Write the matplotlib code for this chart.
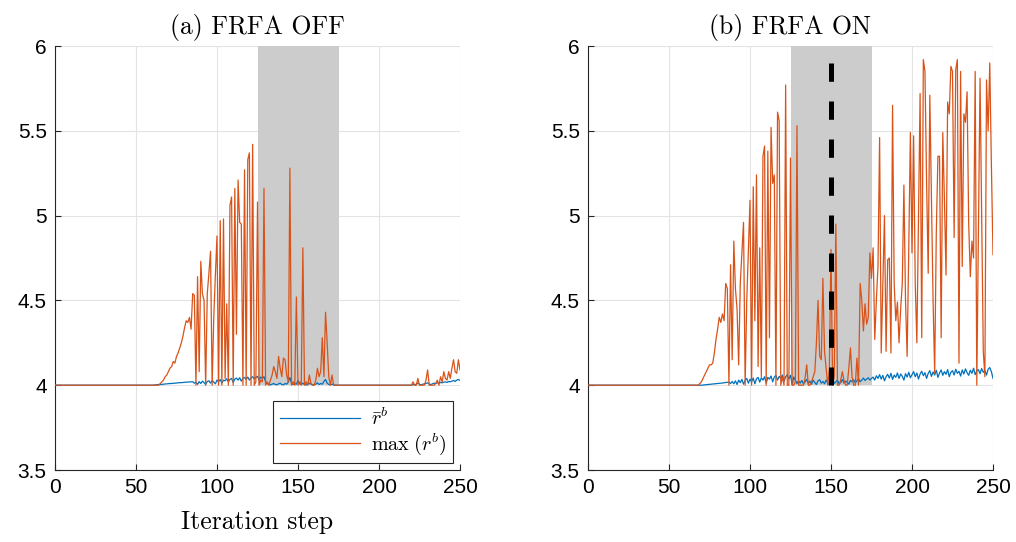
import numpy as np
import matplotlib
matplotlib.use("Agg")
import matplotlib.pyplot as plt
from matplotlib.ticker import FuncFormatter

plt.rcParams["mathtext.fontset"] = "cm"
plt.rcParams["font.family"] = ["Liberation Sans", "DejaVu Sans"]

# ---------------- data: FRFA OFF ----------------
off_max = (
    [4.0] * 64
    + [4.00, 4.01, 4.02, 4.03, 4.05, 4.06, 4.08, 4.10, 4.11, 4.14,
       4.13, 4.17, 4.19, 4.22, 4.25, 4.29, 4.34, 4.38, 4.37, 4.40,
       4.33, 4.54, 4.53, 4.00, 4.64, 4.08, 4.73, 4.54, 4.50, 4.00,
       4.54, 4.66, 4.79, 4.00, 4.40, 4.65, 4.88, 4.00, 4.97, 4.00,
       4.98, 4.04, 4.48, 4.00, 5.06, 5.11, 4.00, 5.16, 4.30, 5.21,
       4.96, 4.95, 4.00, 5.27, 4.00, 5.33, 5.37, 4.00, 5.42, 4.00,
       4.02, 5.08, 4.00, 4.03, 4.02, 5.16, 4.00, 4.02, 4.00, 4.03,
       4.06, 4.11, 4.08, 4.04, 4.17, 4.10, 4.05, 4.16, 4.15, 4.06,
       4.02, 5.28, 4.00, 4.02, 4.00, 4.52, 4.00, 4.02, 4.00, 4.81,
       4.00, 4.02, 4.00, 4.06, 4.01, 4.00, 4.00, 4.03, 4.10, 4.05,
       4.08, 4.28, 4.05, 4.43, 4.25, 4.05, 4.00, 4.06, 4.00]
    + [4.0] * 47
    + [4.00, 4.02, 4.00, 4.00, 4.04, 4.00, 4.00, 4.00, 4.00, 4.03,
       4.09, 4.00, 4.00, 4.00, 4.00, 4.01, 4.03, 4.00, 4.05, 4.02,
       4.08, 4.04, 4.03, 4.08, 4.04, 4.10, 4.15, 4.08, 4.07, 4.15, 4.09]
)

off_mean = (
    [4.0] * 60
    + [4.000, 4.001, 4.002, 4.003, 4.004, 4.004, 4.005, 4.006, 4.007, 4.008,
       4.009, 4.010, 4.010, 4.011, 4.012, 4.013, 4.014, 4.015, 4.015, 4.016,
       4.017, 4.018, 4.018, 4.019, 4.020, 4.020,
       4.012, 4.018, 4.005, 4.021, 4.010, 4.024, 4.015, 4.004, 4.022, 4.026,
       4.012, 4.028, 4.018, 4.008, 4.030, 4.022, 4.033, 4.012, 4.030, 4.026,
       4.038, 4.020, 4.034, 4.040, 4.016, 4.036, 4.042, 4.030, 4.044, 4.024,
       4.040, 4.046, 4.034, 4.048, 4.030, 4.044, 4.050, 4.036, 4.046, 4.052,
       4.030, 4.048, 4.040, 4.050, 4.020,
       4.010, 4.004, 4.002, 4.006, 4.010, 4.004, 4.002, 4.008, 4.012, 4.004,
       4.002, 4.010, 4.006, 4.018, 4.045, 4.012, 4.004, 4.010, 4.006, 4.028,
       4.008, 4.004, 4.012, 4.004, 4.002, 4.004, 4.012, 4.006, 4.002, 4.004,
       4.006, 4.014, 4.004, 4.010, 4.006, 4.022, 4.034, 4.012, 4.004, 4.002,
       4.006, 4.002]
    + [4.0] * 47
    + [4.000, 4.004, 4.002, 4.006, 4.012, 4.004, 4.002, 4.006, 4.008, 4.010,
       4.014, 4.006, 4.004, 4.008, 4.012, 4.010, 4.014, 4.012, 4.016, 4.014,
       4.018, 4.020, 4.016, 4.022, 4.020, 4.024, 4.028, 4.022, 4.030, 4.034, 4.028]
)

# ---------------- data: FRFA ON ----------------
on_max = (
    [4.0] * 69
    + [4.01, 4.02, 4.04, 4.06, 4.08, 4.10, 4.12, 4.12, 4.13, 4.19,
       4.27, 4.33, 4.40, 4.37, 4.42, 4.38, 4.60, 4.57, 4.00, 4.71,
       4.15, 4.85, 4.57, 4.45, 4.12, 4.60, 4.78, 4.96, 4.00, 4.50,
       4.80, 5.09, 4.00, 5.17, 4.38, 5.24, 4.11, 4.81, 4.05, 5.35,
       5.41, 4.00, 5.38, 4.28, 5.52, 5.19, 5.24, 4.00, 5.61, 5.56,
       4.00, 4.05, 4.00, 5.77, 4.00, 4.00, 5.34, 4.00, 4.00, 4.02,
       5.53, 4.00, 4.00, 4.00, 4.00, 4.04, 4.12, 4.00, 4.00, 4.02,
       4.05, 4.08, 4.25, 4.50, 4.17, 4.15, 4.63, 4.20, 4.10, 4.00,
       4.10, 4.80, 4.00, 4.05, 4.95, 4.00, 4.00, 4.03, 4.08, 4.03,
       4.00, 4.00, 4.10, 4.22, 4.05, 4.00, 4.00, 4.16, 4.00, 4.60,
       4.50, 4.32, 4.48, 4.36, 4.40, 4.78, 4.63, 4.81, 4.27, 4.50,
       4.70, 5.46, 4.19, 4.60, 5.00, 4.20, 4.74, 4.75, 4.19, 5.65,
       4.60, 4.38, 4.49, 4.25, 4.45, 4.60, 5.18, 4.50, 4.17, 4.80,
       5.49, 4.78, 5.47, 4.60, 4.25, 5.00, 5.72, 4.28, 5.92, 5.85,
       5.20, 4.66, 5.71, 5.10, 4.50, 4.07, 4.90, 5.35, 5.35, 4.28,
       5.49, 5.10, 4.65, 5.67, 5.60, 5.88, 5.85, 4.87, 5.86, 5.92,
       4.13, 5.85, 4.70, 5.60, 5.55, 5.73, 4.95, 4.64, 4.85, 4.75,
       5.85, 4.00, 4.90, 5.81, 5.00, 4.20, 4.05, 5.80, 5.50, 5.90,
       5.30, 4.77]
)

on_mean = (
    [4.0] * 70
    + [4.000, 4.001, 4.002, 4.003, 4.004, 4.005, 4.006, 4.007, 4.008, 4.009,
       4.010, 4.011, 4.012, 4.013, 4.014, 4.016, 4.017, 4.018,
       4.010, 4.022, 4.008, 4.026, 4.004, 4.030, 4.015, 4.034, 4.006, 4.028,
       4.040, 4.012, 4.036, 4.020, 4.042, 4.008, 4.038, 4.046, 4.018, 4.044,
       4.030, 4.050, 4.012, 4.046, 4.036, 4.054, 4.020, 4.048, 4.058, 4.030,
       4.052, 4.040, 4.060, 4.022, 4.050, 4.062, 4.036, 4.058, 4.004, 4.048,
       4.030, 4.010, 4.026,
       4.012, 4.028, 4.008, 4.020, 4.034, 4.010, 4.024, 4.006, 4.030, 4.016,
       4.004, 4.026, 4.032, 4.012, 4.022, 4.008, 4.030, 4.014, 4.002, 4.024,
       4.036, 4.010, 4.020, 4.030, 4.008, 4.016, 4.034, 4.012, 4.024, 4.018,
       4.006, 4.028, 4.020, 4.032, 4.014, 4.026, 4.038, 4.020, 4.030, 4.042,
       4.028, 4.036, 4.044, 4.030, 4.040,
       4.048, 4.030, 4.056, 4.040, 4.062, 4.036, 4.058, 4.026, 4.050, 4.064,
       4.042, 4.070, 4.034, 4.060, 4.046, 4.072, 4.040, 4.066, 4.052, 4.030,
       4.068, 4.048, 4.076, 4.044, 4.062, 4.080, 4.050, 4.072, 4.036, 4.066,
       4.082, 4.056, 4.074, 4.040, 4.070, 4.086, 4.052, 4.078, 4.060, 4.088,
       4.046, 4.072, 4.090, 4.058, 4.080, 4.064, 4.092, 4.050, 4.076, 4.086,
       4.060, 4.094, 4.070, 4.082, 4.054, 4.090, 4.066, 4.096, 4.074, 4.058,
       4.088, 4.070, 4.100, 4.062, 4.084, 4.092, 4.068, 4.098, 4.076, 4.088,
       4.060, 4.094, 4.104, 4.080, 4.040]
)

titles = ["(a) FRFA OFF", "(b) FRFA ON"]
x_ticks = [0, 50, 100, 150, 200, 250]
y_ticks = [3.5, 4, 4.5, 5, 5.5, 6]
window = (125, 175)      # shaded iteration window
switch_step = 150        # step marked by the dashed line

BLUE = "#0072BD"
ORANGE = "#D95319"
TXT = "#262626"

fig = plt.figure(figsize=(10.16, 5.42), dpi=100)
W, H = 1016, 542
ax_off = fig.add_axes([55 / W, 1 - 470 / H, 405 / W, 424 / H])
ax_on = fig.add_axes([588 / W, 1 - 470 / H, 405 / W, 424 / H])

series = [(off_mean, off_max), (on_mean, on_max)]

for ax, title, (mean_v, max_v) in zip([ax_off, ax_on], titles, series):
    steps_mean = np.arange(len(mean_v))
    steps_max = np.arange(len(max_v))
    ax.fill_between(list(window), 4, 6, color="#cccccc", lw=0, zorder=1)
    ax.plot(steps_mean, mean_v, color=BLUE, lw=0.9, zorder=3,
            label=r"$\bar{r}^b$")
    ax.plot(steps_max, max_v, color=ORANGE, lw=0.9, zorder=3,
            label=r"$\max\;(r^b)$")

    ax.set_xlim(0, 250)
    ax.set_ylim(3.5, 6)
    ax.set_xticks(x_ticks)
    ax.set_yticks(y_ticks)
    ax.yaxis.set_major_formatter(FuncFormatter(lambda v, p: f"{v:g}"))
    ax.grid(True, color="#e3e3e3", lw=0.8, zorder=0)
    ax.set_axisbelow(True)
    for s in ["top", "right"]:
        ax.spines[s].set_visible(False)
    for s in ["left", "bottom"]:
        ax.spines[s].set_color(TXT)
        ax.spines[s].set_linewidth(0.8)
    ax.tick_params(direction="in", length=4, width=0.8, colors=TXT,
                   labelsize=15, pad=6, labelcolor="black")
    ax.set_title(title, fontfamily="cmr10", fontsize=18.5, pad=9)

ax_off.set_xlabel("Iteration step", fontfamily="cmr10", fontsize=18.5,
                  labelpad=9)

ax_on.plot([switch_step, switch_step], [5.9, 4.0], color="black", lw=3.6,
           dashes=(3.66, 3.94), solid_capstyle="butt", zorder=4)

leg = ax_off.legend(loc="lower right", fontsize=14.5, handlelength=4.0,
                    handletextpad=0.55, fancybox=False, framealpha=1,
                    edgecolor=TXT, borderaxespad=0.35, labelspacing=0.12,
                    borderpad=0.3)
leg.get_frame().set_linewidth(0.8)

fig.savefig("out.png", dpi=100)
